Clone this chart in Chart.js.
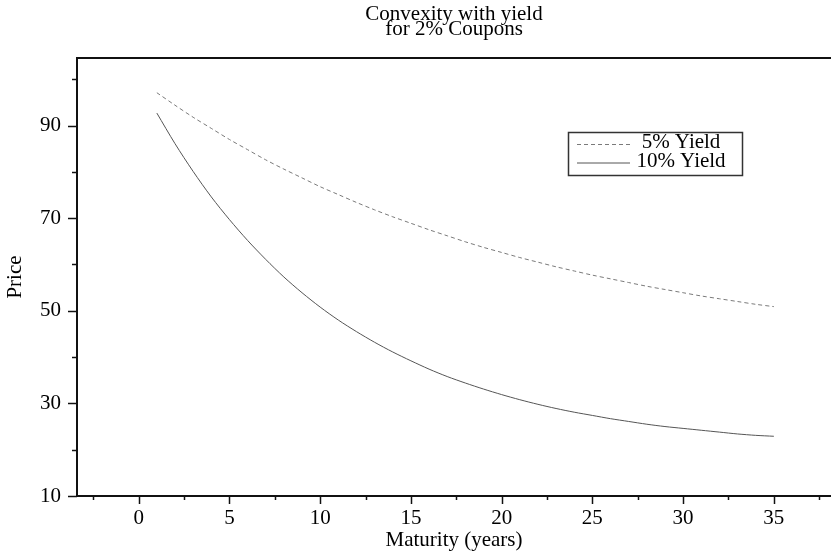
<!DOCTYPE html>
<html>
<head>
<meta charset="utf-8">
<script src="https://cdn.jsdelivr.net/npm/chart.js@4.4.1/dist/chart.umd.min.js"></script>
<style>
  html, body { margin: 0; padding: 0; background: #fff; }
  #wrap { width: 831px; height: 555px; position: relative; }
</style>
</head>
<body>
<div id="wrap"><canvas id="convexity-chart"></canvas></div>
<script>
// Maturities in years
const maturities = [1, 2, 3, 4, 5, 6, 7, 8, 9, 10, 11, 12, 13, 14, 15, 16, 17, 18,
    19, 20, 21, 22, 23, 24, 25, 26, 27, 28, 29, 30, 31, 32, 33, 34, 35];

// Bond price at 5% yield
const yield5 = [97.1, 94.4, 91.8, 89.4, 87.0, 84.8, 82.6, 80.6, 78.7, 76.8, 75.1, 73.4,
    71.8, 70.3, 68.9, 67.5, 66.2, 64.9, 63.7, 62.6, 61.5, 60.5, 59.5, 58.6, 57.7,
    56.9, 56.1, 55.3, 54.6, 53.9, 53.2, 52.6, 52.0, 51.4, 50.9];

// Bond price at 10% yield
const yield10 = [92.7, 86.1, 80.1, 74.6, 69.7, 65.2, 61.1, 57.3, 53.9, 50.8, 48.0, 45.5,
    43.2, 41.1, 39.2, 37.4, 35.8, 34.4, 33.1, 31.9, 30.8, 29.8, 28.9, 28.1, 27.4,
    26.7, 26.1, 25.5, 25.0, 24.6, 24.2, 23.8, 23.4, 23.1, 22.9];

const seriesLabels = ['5% Yield', '10% Yield'];

// Tick positions (labelled ones are the major ticks)
const xTicks = [-2.5, 0, 2.5, 5, 7.5, 10, 12.5, 15, 17.5, 20, 22.5, 25, 27.5, 30, 32.5, 35, 37.5];
const xLabels = [0, 5, 10, 15, 20, 25, 30, 35];
const yTicks = [10, 20, 30, 40, 50, 60, 70, 80, 90, 100];
const yLabels = [10, 30, 50, 70, 90];

const FONT = 'Liberation Serif, Times New Roman, serif';

// axis ticks, top frame line and the boxed legend
const framePlugin = {
    id: 'frame',
    afterDraw(chart) {
        const ctx = chart.ctx;
        const area = chart.chartArea;
        const xs = chart.scales.x;
        const ys = chart.scales.y;
        ctx.save();
        ctx.strokeStyle = '#111';
        ctx.lineWidth = 2;
        ctx.beginPath();
        ctx.moveTo(area.left, Math.round(area.top));
        ctx.lineTo(chart.width, Math.round(area.top));
        ctx.stroke();

        ctx.lineWidth = 1.5;
        xTicks.forEach(v => {
            const px = Math.round(xs.getPixelForValue(v)) + 0.5;
            const len = xLabels.includes(v) ? 8 : 4;
            ctx.beginPath();
            ctx.moveTo(px, area.bottom);
            ctx.lineTo(px, area.bottom + len);
            ctx.stroke();
        });
        yTicks.forEach(v => {
            const py = Math.round(ys.getPixelForValue(v)) + 0.5;
            const len = yLabels.includes(v) ? 9 : 5;
            ctx.beginPath();
            ctx.moveTo(area.left - len, py);
            ctx.lineTo(area.left, py);
            ctx.stroke();
        });

        // legend box
        ctx.strokeStyle = '#333';
        ctx.lineWidth = 1.5;
        ctx.strokeRect(568.5, 132.5, 174, 43);
        ctx.font = '21px ' + FONT;
        ctx.fillStyle = '#000';
        ctx.textAlign = 'center';
        ctx.textBaseline = 'middle';
        const rows = [144, 162.5];
        chart.data.datasets.forEach((ds, i) => {
            ctx.strokeStyle = ds.borderColor;
            ctx.lineWidth = ds.borderWidth;
            ctx.setLineDash(ds.borderDash || []);
            ctx.beginPath();
            ctx.moveTo(577, rows[i] + 0.5);
            ctx.lineTo(630, rows[i] + 0.5);
            ctx.stroke();
            ctx.setLineDash([]);
            ctx.fillText(ds.label, 681, rows[i] - 1.5);
        });
        ctx.restore();
    }
};

const ctx = document.getElementById('convexity-chart').getContext('2d');

new Chart(ctx, {
    type: 'line',
    data: {
        labels: maturities,
        datasets: [{
            label: seriesLabels[0],
            data: maturities.map((m, i) => ({ x: m, y: yield5[i] })),
            borderColor: '#7a7a7a',
            borderWidth: 1,
            borderDash: [4, 3],
            pointRadius: 0,
            tension: 0.3
        }, {
            label: seriesLabels[1],
            data: maturities.map((m, i) => ({ x: m, y: yield10[i] })),
            borderColor: '#555555',
            borderWidth: 1,
            pointRadius: 0,
            tension: 0.3
        }]
    },
    options: {
        responsive: true,
        maintainAspectRatio: false,
        animation: false,
        layout: { padding: 0 },
        plugins: {
            legend: { display: false },
            tooltip: { enabled: false },
            title: {
                display: true,
                fullSize: false,
                text: ['Convexity with yield', 'for 2% Coupons'],
                color: '#000',
                font: { family: FONT, size: 21, weight: 'normal', lineHeight: 0.74 },
                padding: { top: 6.5, bottom: 20.4 }
            }
        },
        scales: {
            x: {
                type: 'linear',
                min: -3.4,
                max: 38.15,
                afterBuildTicks: scale => { scale.ticks = xTicks.map(v => ({ value: v })); },
                afterFit: scale => { scale.height = 59; },
                grid: { display: true, drawOnChartArea: false, drawTicks: true, tickLength: 8, color: 'rgba(0,0,0,0)' },
                border: { display: true, color: '#111', width: 2 },
                ticks: {
                    color: '#000',
                    font: { family: FONT, size: 21 },
                    padding: 2,
                    maxRotation: 0,
                    autoSkip: false,
                    callback: v => xLabels.includes(v) ? String(v) : ''
                },
                title: {
                    display: true,
                    text: 'Maturity (years)',
                    color: '#000',
                    font: { family: FONT, size: 21 },
                    padding: { top: 0, bottom: 2 }
                }
            },
            y: {
                type: 'linear',
                min: 10,
                max: 104.6,
                afterBuildTicks: scale => { scale.ticks = yTicks.map(v => ({ value: v })); },
                afterFit: scale => { scale.width = 77; },
                grid: { display: true, drawOnChartArea: false, drawTicks: true, tickLength: 9, color: 'rgba(0,0,0,0)' },
                border: { display: true, color: '#111', width: 2 },
                ticks: {
                    color: '#000',
                    font: { family: FONT, size: 21 },
                    padding: 7,
                    autoSkip: false,
                    callback: v => yLabels.includes(v) ? String(v) : ''
                },
                title: {
                    display: true,
                    text: 'Price',
                    color: '#000',
                    font: { family: FONT, size: 21 },
                    padding: { top: 3, bottom: 0 }
                }
            }
        }
    },
    plugins: [framePlugin]
});
</script>
</body>
</html>
